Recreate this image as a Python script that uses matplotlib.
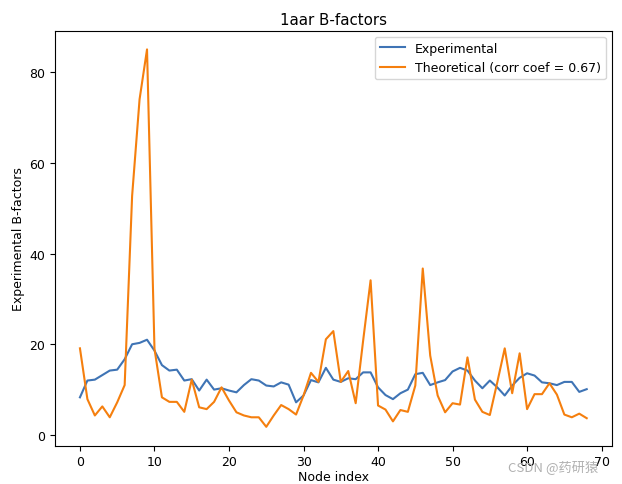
import matplotlib
matplotlib.use("Agg")
import matplotlib.pyplot as plt
import numpy as np

# B-factors per node
experimental = [8.3, 12.0, 12.2, 13.2, 14.2, 14.4, 16.7, 20.0, 20.3, 21.0,
                18.6, 15.4, 14.2, 14.4, 12.0, 12.3, 9.8, 12.2, 10.0, 10.3,
                9.8, 9.4, 11.0, 12.3, 12.0, 10.9, 10.7, 11.6, 11.1, 7.2,
                8.7, 12.1, 11.6, 14.8, 12.2, 11.7, 12.5, 12.3, 13.8, 13.8,
                10.5, 8.8, 7.9, 9.2, 10.0, 13.4, 13.7, 11.0, 11.6, 12.1,
                14.0, 14.8, 14.2, 12.0, 10.3, 12.0, 10.5, 8.7, 10.9, 12.6,
                13.6, 13.1, 11.6, 11.4, 11.0, 11.7, 11.7, 9.5, 10.1]
theoretical = [19.1, 7.9, 4.3, 6.3, 3.9, 7.2, 11.0, 52.7, 74.0, 85.0,
               19.0, 8.3, 7.3, 7.3, 5.1, 12.2, 6.1, 5.7, 7.3, 10.5,
               7.6, 5.0, 4.3, 3.9, 3.9, 1.8, 4.3, 6.6, 5.7, 4.5,
               8.7, 13.7, 11.7, 21.1, 22.9, 11.7, 14.1, 7.0, 20.8, 34.1,
               6.5, 5.6, 3.0, 5.5, 5.1, 10.9, 36.7, 17.5, 8.7, 5.0,
               7.0, 6.7, 17.1, 7.8, 5.1, 4.4, 11.6, 19.1, 9.2, 18.0,
               5.7, 9.0, 9.0, 11.4, 8.9, 4.5, 3.9, 4.7, 3.7]
corr_coef = 0.67

nodes = np.arange(len(experimental))

plt.rcParams["font.size"] = 9

fig = plt.figure(figsize=(6.22, 4.85), dpi=100)
ax = fig.add_axes([0.0878, 0.079, 0.8962, 0.856])

ax.plot(nodes, experimental, color="#3f74b5", label="Experimental")
ax.plot(nodes, theoretical, color="#f57f0e", label="Theoretical (corr coef = %.2f)" % corr_coef)

ax.set_title("1aar B-factors", pad=5)
ax.set_xlabel("Node index", labelpad=1)
ax.set_ylabel("Experimental B-factors", labelpad=3)
ax.legend(loc="upper right")

fig.text(0.962, 0.037, "CSDN @药研猿", ha="right", va="center", fontsize=9.5,
         color="#b0b0b0", family=["Noto Sans CJK SC", "DejaVu Sans"])

fig.savefig("out.png", dpi=100)
